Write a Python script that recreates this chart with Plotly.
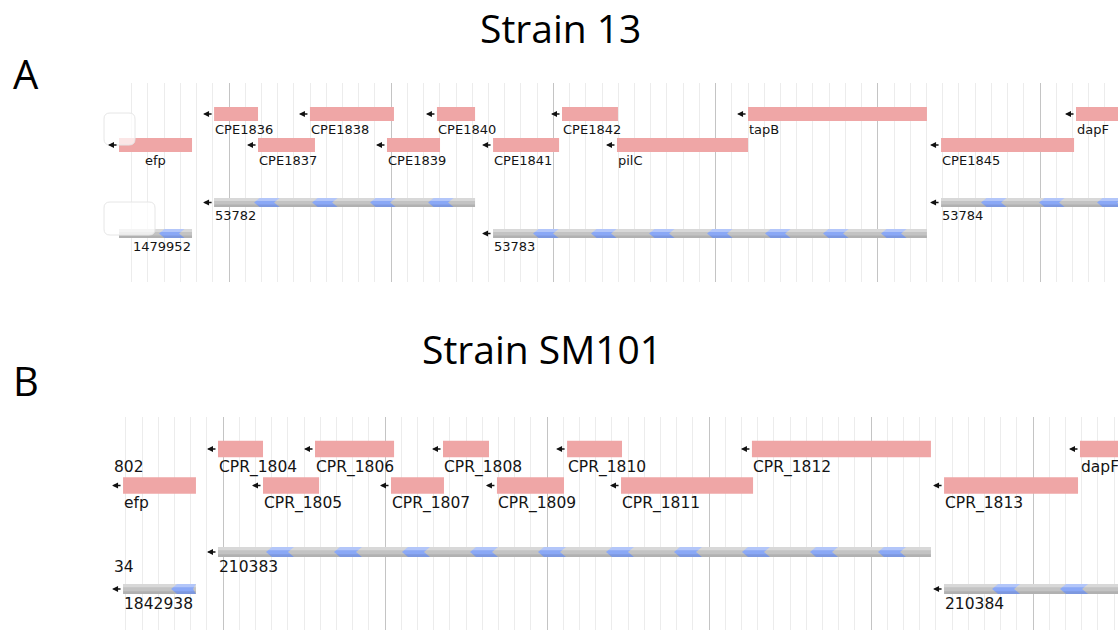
import plotly.graph_objects as go

W, H = 1118, 630

# ---------------- DATA (positions in kb along the visible window) ----------------
# Panel A : Strain 13
a_gene_names = ["CPE1836", "CPE1838", "CPE1840", "CPE1842", "tapB", "dapF",
                "efp", "CPE1837", "CPE1839", "CPE1841", "pilC", "CPE1845"]
a_gene_start = [0.908, 1.499, 2.282, 3.053, 4.200, 6.222,
                0.322, 1.179, 1.974, 2.628, 3.392, 5.390]
a_gene_end = [1.179, 2.017, 2.517, 3.398, 5.303, 6.863,
              0.772, 1.530, 2.301, 3.035, 4.200, 6.210]
a_gene_lane = [0, 0, 0, 0, 0, 0, 1, 1, 1, 1, 1, 1]
a_gene_strand = ["-"] * 12
a_gene_label_anchor = ["start"] * 6 + ["center"] + ["start"] * 5

a_contig_names = ["53782", "53784", "1479952", "53783"]
a_contig_start = [0.908, 5.390, 0.322, 2.628]
a_contig_end = [2.517, 6.863, 0.772, 5.303]
a_contig_lane = [0, 0, 1, 1]
a_contig_strand = ["-", "-", None, "-"]
a_contig_label_anchor = ["start", "start", "end", "start"]

# Panel B : Strain SM101
b_gene_names = ["CPR_1804", "CPR_1806", "CPR_1808", "CPR_1810", "CPR_1812", "dapF",
                "efp", "CPR_1805", "CPR_1807", "CPR_1809", "CPR_1811", "CPR_1813"]
b_gene_start = [0.969, 1.568, 2.358, 3.124, 4.265, 6.290,
                0.383, 1.247, 2.037, 2.691, 3.457, 5.451]
b_gene_end = [1.247, 2.056, 2.642, 3.463, 5.370, 6.907,
              0.833, 1.593, 2.364, 3.105, 4.272, 6.278]
b_gene_lane = [0, 0, 0, 0, 0, 0, 1, 1, 1, 1, 1, 1]
b_gene_strand = ["-"] * 12
b_gene_label_anchor = ["start"] * 12

b_contig_names = ["210383", "1842938", "210384"]
b_contig_start = [0.969, 0.383, 5.451]
b_contig_end = [5.370, 0.833, 6.907]
b_contig_lane = [0, 1, 1]
b_contig_strand = ["-", "-", "-"]
b_contig_label_anchor = ["start", "start", "start"]

# cut-off labels at the left edge of panel B
b_edge_texts = ["802", "34"]
b_edge_track = ["gene", "contig"]
b_edge_lane = [0, 0]

panel_titles = ["Strain 13", "Strain SM101"]
panel_letters = ["A", "B"]

# ---------------- STYLE / LAYOUT ----------------
PINK = "#efa6a6"
GRAY = "#c3c3c3"
BLUE = "#8aa8f6"
FONT_LBL = "DejaVu Sans"
FONT_TTL = "Open Sans"

panels = [
    dict(xpx=(115, W), ypx=(83, 282), p0=66.8, ppu=162.2,
         gene_y=[31, 62], gene_h=14, contig_y=[119.5, 150.5], contig_h=9,
         fsize=13, period=58, offset=50, chev_w=20, chev_t=5.5, lbl_gap=-0.5,
         genes=(a_gene_names, a_gene_start, a_gene_end, a_gene_lane, a_gene_strand, a_gene_label_anchor),
         contigs=(a_contig_names, a_contig_start, a_contig_end, a_contig_lane, a_contig_strand, a_contig_label_anchor),
         edge=None),
    dict(xpx=(113, W), ypx=(417, 630), p0=61.0, ppu=162.0,
         gene_y=[32, 68.5], gene_h=16.5, contig_y=[135, 172], contig_h=10,
         fsize=15.5, period=68, offset=59, chev_w=22, chev_t=6, lbl_gap=-0.5,
         genes=(b_gene_names, b_gene_start, b_gene_end, b_gene_lane, b_gene_strand, b_gene_label_anchor),
         contigs=(b_contig_names, b_contig_start, b_contig_end, b_contig_lane, b_contig_strand, b_contig_label_anchor),
         edge=(b_edge_texts, b_edge_track, b_edge_lane)),
]

fig = go.Figure()
shapes = []
annotations = []


def px_x(px):
    return px / W


def px_y(py):
    return 1 - py / H


for i, P in enumerate(panels):
    n = "" if i == 0 else str(i + 1)
    xr = "x" + n
    yr = "y" + n
    x0u = (P["xpx"][0] - P["p0"]) / P["ppu"]
    x1u = (P["xpx"][1] - P["p0"]) / P["ppu"]
    ph = P["ypx"][1] - P["ypx"][0]
    u = 1.0 / P["ppu"]  # units per pixel

    fig.add_trace(go.Scatter(x=[x0u, x1u], y=[0, 0], mode="markers",
                             marker=dict(opacity=0), hoverinfo="skip",
                             showlegend=False, xaxis=xr, yaxis=yr))

    ax = dict(domain=[px_x(P["xpx"][0]), 1.0], range=[x0u, x1u], anchor=yr,
              showticklabels=False, ticks="", zeroline=False, showline=False,
              tick0=0, dtick=1, showgrid=True, gridcolor="#c4c4c4", gridwidth=1,
              minor=dict(tick0=0, dtick=0.1, showgrid=True, gridcolor="#ececec", gridwidth=1),
              fixedrange=True)
    ay = dict(domain=[px_y(P["ypx"][1]), px_y(P["ypx"][0])], range=[ph, 0], anchor=xr,
              showticklabels=False, ticks="", zeroline=False, showline=False,
              showgrid=False, fixedrange=True)
    fig.update_layout(**{"xaxis" + n: ax, "yaxis" + n: ay})

    def arrow(xs, ymid):
        annotations.append(dict(x=xs - 11 * u, y=ymid, ax=xs - 1 * u, ay=ymid,
                                xref=xr, yref=yr, axref=xr, ayref=yr, text="",
                                showarrow=True, arrowhead=2, arrowsize=0.8,
                                arrowwidth=1.5, arrowcolor="#111111",
                                standoff=0, startstandoff=0))

    def label(text, s, e, ybot, anchor):
        if anchor == "start":
            xx, xa = s, "left"
        elif anchor == "end":
            xx, xa = e, "right"
        else:
            xx, xa = (s + e) / 2, "center"
        annotations.append(dict(x=xx, y=ybot + P["lbl_gap"], xref=xr, yref=yr,
                                text=text, showarrow=False, xanchor=xa, yanchor="top",
                                font=dict(family=FONT_LBL, size=P["fsize"], color="#141414"),
                                borderpad=0))

    # genes
    names, st, en, ln, sd, la = P["genes"]
    for nm, s, e, l, d, a in zip(names, st, en, ln, sd, la):
        yc = P["gene_y"][l]
        hh = P["gene_h"] / 2
        shapes.append(dict(type="rect", xref=xr, yref=yr, x0=s, x1=e, y0=yc - hh, y1=yc + hh,
                           fillcolor=PINK, line=dict(width=0), layer="above"))
        if d == "-":
            arrow(s, yc)
        label(nm, s, e, yc + hh, a)

    # contigs
    names, st, en, ln, sd, la = P["contigs"]
    for nm, s, e, l, d, a in zip(names, st, en, ln, sd, la):
        yc = P["contig_y"][l]
        hh = P["contig_h"] / 2
        shapes.append(dict(type="rect", xref=xr, yref=yr, x0=s, x1=e, y0=yc - hh, y1=yc + hh,
                           fillcolor=GRAY, line=dict(width=0), layer="above"))
        # blue chevrons
        w = P["chev_w"] * u
        t = P["chev_t"] * u
        c = s + P["offset"] * u
        while c + w / 2 < e + 0.5 * w:
            pts = [(c - w / 2, yc), (c - w / 2 + t, yc - hh), (c + w / 2 + t, yc - hh),
                   (c + w / 2, yc), (c + w / 2 + t, yc + hh), (c - w / 2 + t, yc + hh)]
            pts = [(min(max(px_, s), e), py_) for px_, py_ in pts]
            path = "M " + " L ".join(f"{px_:.5f},{py_:.3f}" for px_, py_ in pts) + " Z"
            shapes.append(dict(type="path", xref=xr, yref=yr, path=path,
                               fillcolor=BLUE, line=dict(width=0), layer="above"))
            c += P["period"] * u
        # gradient highlights
        shapes.append(dict(type="rect", xref=xr, yref=yr, x0=s, x1=e, y0=yc - hh, y1=yc - hh * 0.35,
                           fillcolor="rgba(255,255,255,0.35)", line=dict(width=0), layer="above"))
        shapes.append(dict(type="rect", xref=xr, yref=yr, x0=s, x1=e, y0=yc + hh * 0.45, y1=yc + hh,
                           fillcolor="rgba(0,0,0,0.09)", line=dict(width=0), layer="above"))
        if d == "-":
            arrow(s, yc)
        label(nm, s, e, yc + hh, a)

    # cut-off labels at left edge
    if P["edge"] is not None:
        for txt, trk, l in zip(*P["edge"]):
            if trk == "gene":
                ybot = P["gene_y"][l] + P["gene_h"] / 2
            else:
                ybot = P["contig_y"][l] + P["contig_h"] / 2
            label(txt, x0u, x0u, ybot, "start")

    # titles and letters
    ttl_y = [28, 348][i]
    let_y = [73, 380][i]
    ttl_x = [560, 542][i]
    annotations.append(dict(x=px_x(ttl_x), y=px_y(ttl_y), xref="paper", yref="paper",
                            text=panel_titles[i], showarrow=False, xanchor="center", yanchor="middle",
                            borderpad=0,
                            font=dict(family=FONT_TTL, size=39, color="#000000")))
    annotations.append(dict(x=px_x(11), y=px_y(let_y), xref="paper", yref="paper",
                            text=panel_letters[i], showarrow=False, xanchor="left", yanchor="middle",
                            font=dict(family=FONT_TTL, size=40, color="#000000")))


# faint tooltip-like overlays at left of panel A
def rounded(x0, y0, x1, y1, r):
    X0, X1 = px_x(x0), px_x(x1)
    Y0, Y1 = px_y(y0), px_y(y1)
    rx, ry = r / W, r / H
    return (f"M {X0+rx},{Y0} L {X1-rx},{Y0} Q {X1},{Y0} {X1},{Y0-ry} "
            f"L {X1},{Y1+ry} Q {X1},{Y1} {X1-rx},{Y1} L {X0+rx},{Y1} "
            f"Q {X0},{Y1} {X0},{Y1+ry} L {X0},{Y0-ry} Q {X0},{Y0} {X0+rx},{Y0} Z")


for (bx0, by0, bx1, by1) in [(104, 113, 135, 145), (104, 202, 155, 235)]:
    shapes.append(dict(type="path", xref="paper", yref="paper", path=rounded(bx0, by0, bx1, by1, 6),
                       fillcolor="rgba(255,255,255,0.72)", line=dict(color="#e6e6e6", width=1),
                       layer="above"))

fig.update_layout(width=W, height=H, margin=dict(l=0, r=0, t=0, b=0),
                  paper_bgcolor="white", plot_bgcolor="white",
                  shapes=shapes, annotations=annotations, showlegend=False)

fig.write_html("out.html")
